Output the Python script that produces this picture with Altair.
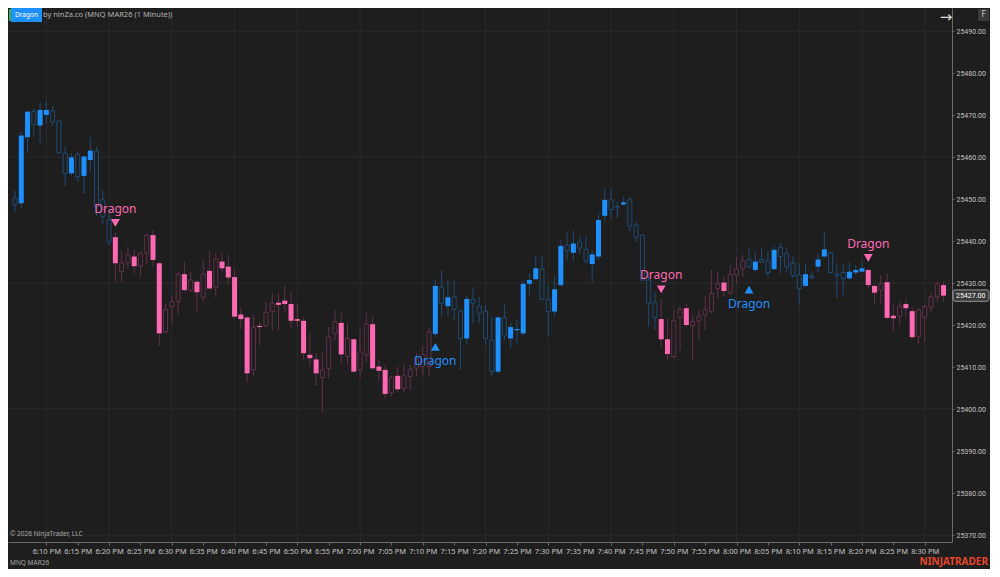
import altair as alt
import pandas as pd

# ---------------- data ----------------
START = "2026-01-05 18:05"  # first 1-minute bar (6:05 PM)

opens = [25450.2, 25449.0, 25464.7, 25470.8, 25467.5, 25470.0, 25471.0, 25468.6, 25460.9, 25456.1,
         25460.6, 25455.5, 25459.3, 25461.5, 25449.8, 25445.0, 25440.9, 25432.7, 25434.8, 25436.3,
         25434.0, 25437.1, 25441.4, 25434.7, 25418.4, 25424.4, 25425.6, 25432.1, 25428.3, 25430.3,
         25426.6, 25432.9, 25429.0, 25435.1, 25433.9, 25431.4, 25422.5, 25421.8, 25409.3, 25419.8,
         25419.8, 25423.2, 25425.3, 25425.8, 25425.0, 25421.4, 25421.0, 25412.9, 25411.8, 25407.5,
         25409.6, 25418.0, 25420.5, 25412.5, 25416.6, 25409.3, 25412.9, 25420.2, 25410.1, 25409.3,
         25403.9, 25407.9, 25404.9, 25407.7, 25409.7, 25410.1, 25410.1, 25417.9, 25429.0, 25424.5,
         25426.7, 25423.3, 25416.8, 25426.1, 25424.5, 25423.3, 25416.4, 25408.9, 25421.8, 25416.8,
         25418.8, 25418.0, 25429.8, 25430.9, 25433.3, 25426.1, 25423.2, 25429.5, 25439.0, 25437.2,
         25439.8, 25438.0, 25434.5, 25436.3, 25446.0, 25449.8, 25448.1, 25448.7, 25449.8, 25443.8,
         25441.4, 25430.7, 25425.3, 25421.4, 25416.6, 25412.5, 25421.8, 25424.0, 25419.8, 25421.0,
         25422.4, 25423.3, 25428.7, 25430.1, 25427.7, 25431.9, 25433.5, 25435.6, 25433.1, 25435.6,
         25435.3, 25433.3, 25438.5, 25437.1, 25434.7, 25431.9, 25429.3, 25431.7, 25433.9, 25436.3,
         25437.2, 25432.1, 25432.5, 25431.1, 25432.5, 25432.7, 25433.1, 25429.3, 25428.3, 25430.2,
         25422.2, 25422.0, 25425.0, 25423.3, 25417.2, 25421.8, 25424.2, 25426.7, 25429.5]

highs = [25452.0, 25466.0, 25471.0, 25471.6, 25473.0, 25473.4, 25472.2, 25468.8, 25462.5, 25460.9,
         25461.3, 25460.3, 25464.7, 25462.5, 25452.0, 25447.4, 25442.0, 25437.5, 25438.6, 25437.9,
         25437.5, 25441.8, 25442.6, 25435.0, 25425.2, 25427.1, 25432.7, 25435.1, 25432.7, 25430.5,
         25435.5, 25437.5, 25437.1, 25437.1, 25436.7, 25433.1, 25424.2, 25422.0, 25422.5, 25420.8,
         25425.6, 25427.8, 25427.5, 25429.5, 25427.8, 25425.2, 25421.8, 25418.0, 25413.3, 25413.3,
         25419.5, 25423.7, 25422.8, 25420.4, 25416.8, 25418.8, 25422.9, 25422.0, 25411.7, 25410.5,
         25407.9, 25410.1, 25410.8, 25410.6, 25413.3, 25415.0, 25419.2, 25430.7, 25433.1, 25430.7,
         25430.7, 25423.5, 25427.1, 25429.0, 25426.7, 25424.8, 25422.0, 25422.0, 25425.2, 25420.4,
         25421.2, 25430.5, 25432.3, 25436.7, 25436.4, 25429.5, 25431.7, 25440.2, 25442.0, 25442.5,
         25441.0, 25441.0, 25437.9, 25446.6, 25452.5, 25452.5, 25449.4, 25450.5, 25450.5, 25444.6,
         25441.6, 25431.5, 25427.9, 25426.0, 25421.6, 25423.4, 25424.5, 25425.2, 25422.4, 25423.6,
         25426.9, 25433.1, 25432.7, 25431.5, 25434.3, 25436.3, 25436.7, 25438.3, 25437.5, 25438.3,
         25437.5, 25439.0, 25439.5, 25438.3, 25436.3, 25434.7, 25434.7, 25432.7, 25437.1, 25442.2,
         25437.4, 25434.7, 25434.7, 25435.1, 25434.3, 25435.1, 25433.3, 25429.5, 25431.9, 25432.3,
         25424.8, 25425.6, 25426.1, 25424.2, 25424.0, 25424.8, 25427.5, 25430.3, 25430.3]

lows = [25447.0, 25447.8, 25461.0, 25464.8, 25463.3, 25468.0, 25467.4, 25460.9, 25453.1, 25455.6,
        25454.1, 25451.2, 25456.5, 25446.0, 25444.0, 25439.0, 25430.3, 25430.3, 25433.5, 25431.9,
        25431.5, 25434.3, 25433.9, 25415.0, 25418.0, 25420.4, 25422.4, 25427.9, 25427.9, 25423.2,
        25425.6, 25428.5, 25426.6, 25432.5, 25429.7, 25421.6, 25419.0, 25406.3, 25407.9, 25415.2,
        25419.5, 25418.6, 25418.8, 25423.2, 25419.2, 25419.5, 25411.8, 25410.1, 25405.5, 25399.0,
        25407.3, 25416.4, 25410.9, 25410.5, 25408.5, 25407.3, 25411.3, 25409.3, 25406.5, 25402.5,
        25403.1, 25403.9, 25403.9, 25404.5, 25407.7, 25407.9, 25407.7, 25417.2, 25422.0, 25422.0,
        25421.2, 25409.3, 25415.2, 25420.4, 25420.4, 25415.2, 25407.7, 25408.5, 25416.4, 25414.5,
        25415.6, 25417.6, 25427.1, 25430.7, 25426.0, 25417.2, 25422.0, 25429.3, 25435.5, 25435.1,
        25437.0, 25434.7, 25430.3, 25435.5, 25444.6, 25445.4, 25445.4, 25448.5, 25442.2, 25439.7,
        25430.5, 25419.6, 25418.8, 25414.8, 25411.7, 25412.0, 25414.0, 25419.6, 25411.7, 25416.4,
        25418.8, 25422.8, 25426.4, 25426.7, 25427.1, 25429.9, 25431.5, 25433.5, 25432.7, 25434.8,
        25431.5, 25433.1, 25432.3, 25432.5, 25431.2, 25424.8, 25429.1, 25430.8, 25432.3, 25436.0,
        25432.2, 25426.4, 25427.1, 25430.8, 25432.0, 25432.5, 25428.7, 25425.2, 25425.2, 25421.6,
        25418.4, 25420.0, 25422.0, 25416.7, 25415.6, 25416.0, 25423.0, 25425.6, 25425.6]

closes = [25448.6, 25465.1, 25470.8, 25467.8, 25471.2, 25471.2, 25468.3, 25461.0, 25456.1, 25459.9,
          25455.3, 25460.1, 25461.5, 25448.2, 25445.8, 25439.8, 25434.7, 25434.8, 25436.7, 25434.0,
          25437.1, 25441.4, 25435.5, 25418.0, 25423.7, 25425.6, 25432.1, 25428.3, 25430.7, 25427.8,
          25432.1, 25428.7, 25435.7, 25433.5, 25431.3, 25422.0, 25421.4, 25408.5, 25419.5, 25419.5,
          25423.0, 25425.2, 25424.8, 25425.0, 25421.0, 25421.0, 25413.3, 25412.1, 25408.5, 25409.3,
          25417.1, 25420.8, 25413.0, 25416.8, 25408.9, 25413.6, 25420.2, 25409.7, 25409.1, 25403.6,
          25407.5, 25404.7, 25407.9, 25409.5, 25412.1, 25412.9, 25418.4, 25429.3, 25425.2, 25426.6,
          25423.7, 25416.8, 25426.2, 25425.2, 25422.8, 25416.8, 25408.9, 25421.8, 25417.4, 25419.5,
          25419.0, 25429.8, 25430.7, 25433.5, 25426.1, 25423.2, 25428.5, 25438.8, 25437.7, 25439.4,
          25438.3, 25435.3, 25436.8, 25445.0, 25449.8, 25447.5, 25448.0, 25449.2, 25443.6, 25440.9,
          25430.7, 25425.2, 25421.8, 25416.6, 25413.1, 25421.0, 25423.7, 25420.0, 25420.8, 25422.1,
          25423.6, 25427.5, 25429.8, 25428.1, 25432.1, 25433.3, 25435.3, 25433.9, 25435.1, 25435.0,
          25432.5, 25437.9, 25436.3, 25433.8, 25431.7, 25428.7, 25432.1, 25431.3, 25435.6, 25438.0,
          25432.5, 25431.7, 25431.1, 25432.7, 25433.1, 25433.5, 25429.5, 25427.7, 25429.8, 25421.7,
          25421.6, 25424.5, 25424.0, 25417.1, 25423.6, 25424.4, 25426.7, 25429.8, 25427.0]

# trend state of the Dragon indicator (B = bullish/blue, P = bearish/pink), as runs of bars
trend_runs = [("B", 16), ("P", 51), ("B", 36), ("P", 14), ("B", 19), ("P", 13)]

# Dragon signals: bar index, kind, marker price
sig_bars = [16, 67, 103, 117, 136]
sig_kind = ["sell", "buy", "sell", "buy", "sell"]
sig_price = [25444.3, 25414.8, 25428.5, 25428.4, 25436.0]

y_ticks = [25370, 25380, 25390, 25400, 25410, 25420, 25430, 25440, 25450, 25460, 25470, 25480, 25490]
y_grid = [25370, 25400, 25430, 25460, 25490]
x_tick_labels = ["6:10 PM", "6:15 PM", "6:20 PM", "6:25 PM", "6:30 PM", "6:35 PM", "6:40 PM", "6:45 PM",
                 "6:50 PM", "6:55 PM", "7:00 PM", "7:05 PM", "7:10 PM", "7:15 PM", "7:20 PM", "7:25 PM",
                 "7:30 PM", "7:35 PM", "7:40 PM", "7:45 PM", "7:50 PM", "7:55 PM", "8:00 PM", "8:05 PM",
                 "8:10 PM", "8:15 PM", "8:20 PM", "8:25 PM", "8:30 PM"]
x_grid_labels = ["6:10 PM", "6:20 PM", "6:30 PM", "6:40 PM", "6:50 PM", "7:00 PM", "7:10 PM", "7:20 PM",
                 "7:30 PM", "7:40 PM", "7:50 PM", "8:00 PM", "8:10 PM", "8:20 PM", "8:30 PM"]

# ---------------- styling ----------------
BG = "#1e1e1e"
GRID = "#2a2a2a"
BLUE = "#1e90ff"
PINK = "#ff69b4"
DIM_BLUE = "#1f4b74"
DIM_PINK = "#62304a"
LABEL = "#c4c4c4"
FONT = "Noto Sans"

W, H = 944, 534
TOTAL_W, TOTAL_H = 982, 561

# ---------------- tables ----------------
trend = []
for k, n in trend_runs:
    trend += [k] * n

start = pd.Timestamp(START)
times = [start + pd.Timedelta(minutes=i) for i in range(len(opens))]
df = pd.DataFrame({"t": times, "o": opens, "h": highs, "l": lows, "c": closes, "trend": trend})
df["top"] = df[["o", "c"]].max(axis=1)
df["bot"] = df[["o", "c"]].min(axis=1)
thin = (df["top"] - df["bot"]) < 0.3
mid = (df["top"] + df["bot"]) / 2
df.loc[thin, "top"] = mid[thin] + 0.15
df.loc[thin, "bot"] = mid[thin] - 0.15
df["filled"] = ((df["trend"] == "B") & (df["c"] > df["o"])) | ((df["trend"] == "P") & (df["c"] < df["o"]))


def to_dt(label):
    hm, ampm = label.split(" ")
    hh, mm = hm.split(":")
    hh = int(hh) % 12 + (12 if ampm == "PM" else 0)
    return alt.DateTime(year=start.year, month=start.month, date=start.day, hours=hh, minutes=int(mm))


def to_ts(label):
    return pd.Timestamp(f"{start.date()} {pd.Timestamp(label).strftime('%H:%M')}")


sig = pd.DataFrame({"t": [times[i] for i in sig_bars], "kind": sig_kind, "p": sig_price})
vgrid = pd.DataFrame({"t": [to_ts(l) for l in x_grid_labels]})
hgrid = pd.DataFrame({"p": y_grid})
last = pd.DataFrame({"p": [closes[-1]]})
one = pd.DataFrame({"a": [0]})

# scales: 4.2 px per point, 25490 sits 23 px below the top of the plot
ppp = 4.2
y_top = 25490 + 23 / ppp
y_bot = y_top - H / ppp
Y_SCALE = alt.Scale(domain=[y_bot, y_top], nice=False, zero=False)
X_SCALE = alt.Scale(domain=[alt.DateTime(year=2026, month=1, date=5, hours=18, minutes=4, seconds=41),
                            alt.DateTime(year=2026, month=1, date=5, hours=20, minutes=33, seconds=33)],
                    nice=False)

x_axis = alt.Axis(values=[to_dt(l) for l in x_tick_labels], format="%-I:%M %p", title=None,
                  labelColor=LABEL, labelFontSize=7.5, labelFont=FONT, labelFlush=False,
                  labelOverlap=False, tickSize=3, tickColor="#6a6a6a", domainColor="#6a6a6a",
                  labelPadding=2, grid=False)
y_axis = alt.Axis(orient="right", values=y_ticks, format=".2f", title=None, labelColor=LABEL,
                  labelFontSize=7, labelFont="Roboto", tickSize=2, tickColor="#6a6a6a",
                  domainColor="#6a6a6a", labelPadding=2, grid=False)


def X(field="t"):
    return alt.X(f"{field}:T", scale=X_SCALE, axis=x_axis)


def Y(field):
    return alt.Y(f"{field}:Q", scale=Y_SCALE, axis=y_axis)


base = alt.Chart(df)

vg = alt.Chart(vgrid).mark_rule(color=GRID, strokeWidth=1).encode(x=X())
hg = alt.Chart(hgrid).mark_rule(color=GRID, strokeWidth=1).encode(y=Y("p"))

wicks = base.mark_rule(strokeWidth=1).encode(
    x=X(), y=Y("l"), y2="h:Q",
    color=alt.Color("trend:N", scale=alt.Scale(domain=["B", "P"], range=[DIM_BLUE, DIM_PINK]), legend=None))

hollow = base.transform_filter("!datum.filled").mark_bar(size=4, fill=BG, strokeWidth=1).encode(
    x=X(), y=Y("bot"), y2="top:Q",
    stroke=alt.Stroke("trend:N", scale=alt.Scale(domain=["B", "P"], range=[DIM_BLUE, DIM_PINK]), legend=None))

filled = base.transform_filter("datum.filled").mark_bar(size=5).encode(
    x=X(), y=Y("bot"), y2="top:Q",
    fill=alt.Fill("trend:N", scale=alt.Scale(domain=["B", "P"], range=[BLUE, PINK]), legend=None))

sig_base = alt.Chart(sig)
sell_tri = sig_base.transform_filter("datum.kind == 'sell'").mark_point(
    shape="triangle-down", filled=True, size=80, color=PINK, opacity=1).encode(x=X(), y=Y("p"))
buy_tri = sig_base.transform_filter("datum.kind == 'buy'").mark_point(
    shape="triangle-up", filled=True, size=80, color=BLUE, opacity=1).encode(x=X(), y=Y("p"))
sell_txt = sig_base.transform_filter("datum.kind == 'sell'").mark_text(
    text="Dragon", dy=-14, fontSize=12, font=FONT, color=PINK).encode(x=X(), y=Y("p"))
buy_txt = sig_base.transform_filter("datum.kind == 'buy'").mark_text(
    text="Dragon", dy=14, fontSize=12, font=FONT, color=BLUE).encode(x=X(), y=Y("p"))

last_box = alt.Chart(last).transform_calculate(lo="datum.p - 1.35", hi="datum.p + 1.35").mark_rect(
    fill="#3a3a3a", stroke="#9a9a9a", strokeWidth=1, cornerRadius=2).encode(
    x=alt.value(W + 1), x2=alt.value(TOTAL_W - 1), y=Y("lo"), y2="hi:Q")
last_txt = alt.Chart(last).mark_text(align="left", baseline="middle", fontSize=7, font="Roboto",
                                     color="#ffffff").encode(
    x=alt.value(W + 4), y=Y("p"), text=alt.Text("p:Q", format=".2f"))

# chart furniture (NinjaTrader window decorations)
green_tab = alt.Chart(one).mark_rect(color="#3cb043").encode(
    x=alt.value(1), x2=alt.value(4), y=alt.value(1), y2=alt.value(13))
blue_btn = alt.Chart(one).mark_rect(color="#1e90ff").encode(
    x=alt.value(3), x2=alt.value(34), y=alt.value(0), y2=alt.value(14))
btn_txt = alt.Chart(one).mark_text(text="Dragon", fontSize=6.5, font=FONT, color="#ffffff",
                                   baseline="middle").encode(x=alt.value(18.5), y=alt.value(7))
title_txt = alt.Chart(one).mark_text(text="by ninZa.co (MNQ MAR26 (1 Minute))", align="left",
                                     baseline="middle", fontSize=7.5, font=FONT, color="#b4b4b4").encode(
    x=alt.value(35), y=alt.value(7))
arrow_txt = alt.Chart(one).mark_text(text="→", fontSize=15, font="DejaVu Sans", color="#dddddd",
                                     baseline="middle").encode(x=alt.value(W - 6), y=alt.value(9))
f_box = alt.Chart(one).mark_rect(fill="#3a3a3a").encode(
    x=alt.value(TOTAL_W - 12), x2=alt.value(TOTAL_W - 1), y=alt.value(1), y2=alt.value(13))
f_txt = alt.Chart(one).mark_text(text="F", fontSize=8, font=FONT, color="#cfcfcf",
                                 baseline="middle").encode(x=alt.value(TOTAL_W - 6.5), y=alt.value(7))
copy_txt = alt.Chart(one).mark_text(text="© 2026 NinjaTrader, LLC", align="left", baseline="middle",
                                    fontSize=6.5, font=FONT, color="#a8a8a8").encode(
    x=alt.value(2), y=alt.value(H - 8))
sym_txt = alt.Chart(one).mark_text(text="MNQ MAR26", align="left", baseline="middle", fontSize=6.5,
                                   font=FONT, color="#a8a8a8").encode(x=alt.value(2), y=alt.value(H + 21))
brand_txt = alt.Chart(one).mark_text(text="NINJATRADER", align="right", baseline="middle", fontSize=10,
                                     fontWeight="bold", font=FONT, color="#e8462c").encode(
    x=alt.value(TOTAL_W - 2), y=alt.value(H + 20))

chart = alt.layer(
    vg, hg, wicks, hollow, filled, sell_tri, buy_tri, sell_txt, buy_txt, last_box, last_txt,
    green_tab, blue_btn, btn_txt, title_txt, arrow_txt, f_box, f_txt, copy_txt, sym_txt, brand_txt
).resolve_scale(color="independent", fill="independent", stroke="independent").properties(
    width=W, height=H,
    autosize=alt.AutoSizeParams(type="none"),
    padding={"left": 0, "top": 0, "right": TOTAL_W - W, "bottom": TOTAL_H - H},
).configure(background=BG).configure_view(strokeWidth=0)

chart.save("out.html", embed_options={"renderer": "svg", "actions": False})
